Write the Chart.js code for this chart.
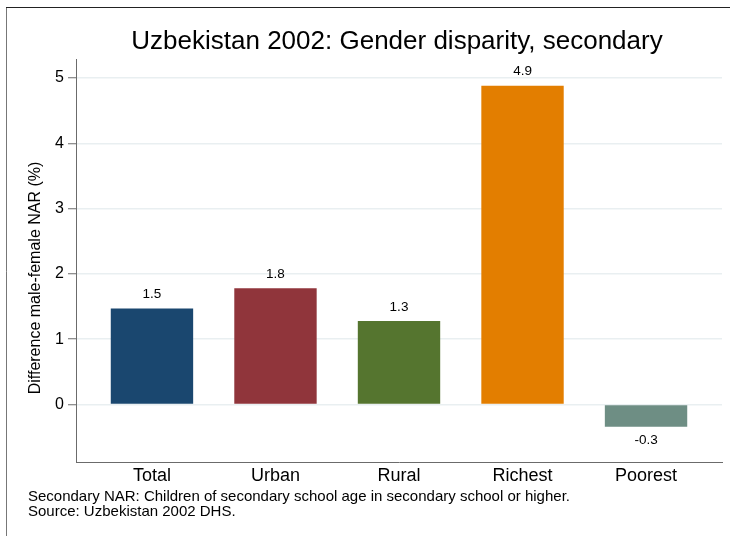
<!DOCTYPE html>
<html lang="en">
<head>
    <meta charset="UTF-8">
    <title>Uzbekistan 2002: Gender disparity, secondary</title>
    <script src="https://cdn.jsdelivr.net/npm/chart.js"></script>
    <style>
        html, body {
            margin: 0;
            padding: 0;
            background: #fff;
        }
        #wrap {
            width: 730px;
            height: 536px;
            position: relative;
        }
    </style>
</head>
<body>
    <div id="wrap">
        <canvas id="chart"></canvas>
    </div>

    <script>
        // data
        const categories = ['Total', 'Urban', 'Rural', 'Richest', 'Poorest'];
        const values = [1.47, 1.78, 1.28, 4.88, -0.34];
        const valueLabels = ['1.5', '1.8', '1.3', '4.9', '-0.3'];
        const barColors = ['#1a476f', '#90353b', '#55752f', '#e37e00', '#6e8e84'];
        const yTicks = [0, 1, 2, 3, 4, 5];

        const titleText = 'Uzbekistan 2002: Gender disparity, secondary';
        const yTitleText = 'Difference male-female NAR (%)';
        const noteLines = [
            'Secondary NAR: Children of secondary school age in secondary school or higher.',
            'Source: Uzbekistan 2002 DHS.'
        ];

        const FONT = '"Liberation Sans", Arial, sans-serif';
        const axisColor = '#6b6b6b';
        const gridColor = '#e9eff1';

        // frame, titles, notes and value labels
        const decor = {
            id: 'decor',
            beforeDraw(chart) {
                const ctx = chart.ctx;
                ctx.save();
                ctx.fillStyle = '#fff';
                ctx.fillRect(0, 0, chart.width, chart.height);
                ctx.strokeStyle = '#777';
                ctx.lineWidth = 1;
                ctx.beginPath();
                ctx.moveTo(6.5, chart.height);
                ctx.lineTo(6.5, 7.5);
                ctx.stroke();
                ctx.strokeStyle = '#222';
                ctx.beginPath();
                ctx.moveTo(6, 7.5);
                ctx.lineTo(chart.width, 7.5);
                ctx.stroke();
                ctx.restore();
            },
            afterDraw(chart) {
                const ctx = chart.ctx;
                const area = chart.chartArea;
                ctx.save();
                ctx.fillStyle = '#000';

                ctx.font = '26px ' + FONT;
                ctx.textAlign = 'center';
                ctx.textBaseline = 'middle';
                ctx.fillText(titleText, (area.left + area.right) / 2 - 2, 42);

                ctx.save();
                ctx.translate(36, 278);
                ctx.rotate(-Math.PI / 2);
                ctx.font = '16px ' + FONT;
                ctx.fillText(yTitleText, 0, 0);
                ctx.restore();

                ctx.font = '15px ' + FONT;
                ctx.textAlign = 'left';
                noteLines.forEach((line, i) => {
                    ctx.fillText(line, 28, 497 + i * 15);
                });

                const meta = chart.getDatasetMeta(0);
                ctx.font = '13.5px ' + FONT;
                ctx.textAlign = 'center';
                meta.data.forEach((bar, i) => {
                    if (values[i] >= 0) {
                        ctx.fillText(valueLabels[i], bar.x, bar.y - 14);
                    } else {
                        ctx.fillText(valueLabels[i], bar.x, bar.y + 14);
                    }
                });
                ctx.restore();
            }
        };

        const ctx = document.getElementById('chart').getContext('2d');
        new Chart(ctx, {
            type: 'bar',
            data: {
                datasets: [{
                    data: values.map((v, i) => ({ x: i, y: v })),
                    backgroundColor: barColors,
                    borderWidth: 0,
                    categoryPercentage: 1,
                    barPercentage: 0.667
                }]
            },
            options: {
                responsive: true,
                maintainAspectRatio: false,
                animation: false,
                layout: {
                    padding: { top: 59, left: 20, right: 8, bottom: 0 }
                },
                plugins: {
                    legend: { display: false },
                    tooltip: { enabled: false }
                },
                scales: {
                    x: {
                        type: 'linear',
                        offset: false,
                        min: -0.615,
                        max: 4.615,
                        afterBuildTicks: (scale) => {
                            scale.ticks = categories.map((c, i) => ({ value: i }));
                        },
                        afterFit: (scale) => { scale.height = 74; },
                        grid: { display: false, drawTicks: false, offset: false },
                        border: { display: true, color: axisColor, width: 1 },
                        ticks: {
                            padding: 3,
                            color: '#000',
                            font: { family: FONT, size: 18 },
                            maxRotation: 0,
                            autoSkip: false,
                            callback: (v) => categories[v]
                        }
                    },
                    y: {
                        min: -0.88,
                        max: 5.29,
                        afterBuildTicks: (scale) => {
                            scale.ticks = yTicks.map(v => ({ value: v }));
                        },
                        afterFit: (scale) => { scale.width = 56; },
                        grid: {
                            color: gridColor,
                            lineWidth: 1.5,
                            tickColor: axisColor,
                            tickLength: 8,
                            tickWidth: 1
                        },
                        border: { display: true, color: axisColor, width: 1 },
                        ticks: {
                            padding: 4,
                            color: '#000',
                            font: { family: FONT, size: 16 },
                            callback: (v) => String(v)
                        }
                    }
                }
            },
            plugins: [decor]
        });
    </script>
</body>
</html>
